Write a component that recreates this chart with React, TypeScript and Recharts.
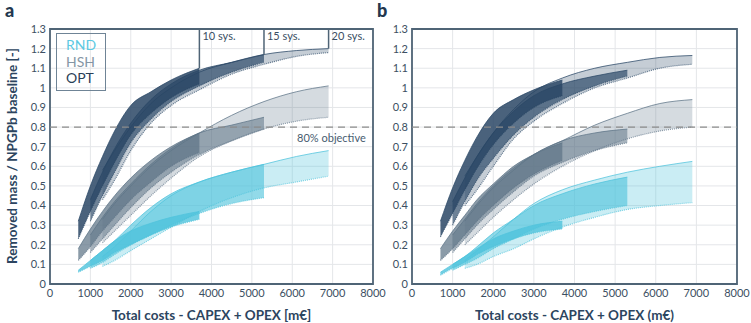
import React from 'react';
import {
  ComposedChart,
  Area,
  Line,
  XAxis,
  YAxis,
  CartesianGrid,
  ReferenceLine,
  ReferenceArea,
  ReferenceDot,
} from 'recharts';

// Total costs (m€) at which each band is sampled
const costs = [700, 1000, 1300, 1600, 2000, 2500, 3000, 3700, 4500, 5300, 6100, 6900];
const n = null;

// Panel a — upper / lower bound of removed mass per method and number of systems
const aOpt10Hi = [0.32, 0.5, 0.65, 0.78, 0.91, 0.98, 1.04, 1.1, n, n, n, n];
const aOpt10Lo = [0.23, 0.37, 0.5, 0.62, 0.76, 0.87, 0.95, 1.02, n, n, n, n];
const aOpt15Hi = [n, 0.43, 0.57, 0.69, 0.82, 0.94, 1.02, 1.09, 1.13, 1.17, n, n];
const aOpt15Lo = [n, 0.32, 0.45, 0.57, 0.72, 0.84, 0.93, 1.01, 1.08, 1.13, n, n];
const aOpt20Hi = [n, n, 0.58, 0.68, 0.8, 0.92, 1.0, 1.08, 1.13, 1.17, 1.19, 1.2];
const aOpt20Lo = [n, n, 0.43, 0.53, 0.68, 0.82, 0.91, 0.99, 1.07, 1.12, 1.16, 1.18];
const aHsh10Hi = [0.18, 0.28, 0.37, 0.45, 0.54, 0.63, 0.7, 0.77, n, n, n, n];
const aHsh10Lo = [0.12, 0.19, 0.27, 0.34, 0.43, 0.52, 0.6, 0.67, n, n, n, n];
const aHsh15Hi = [n, 0.25, 0.34, 0.42, 0.51, 0.61, 0.69, 0.77, 0.81, 0.85, n, n];
const aHsh15Lo = [n, 0.16, 0.23, 0.3, 0.39, 0.49, 0.57, 0.66, 0.73, 0.79, n, n];
const aHsh20Hi = [n, n, 0.33, 0.41, 0.5, 0.6, 0.68, 0.77, 0.86, 0.93, 0.98, 1.01];
const aHsh20Lo = [n, n, 0.21, 0.27, 0.35, 0.45, 0.54, 0.65, 0.73, 0.79, 0.83, 0.85];
const aRnd10Hi = [0.07, 0.12, 0.17, 0.22, 0.27, 0.31, 0.34, 0.37, n, n, n, n];
const aRnd10Lo = [0.06, 0.09, 0.12, 0.16, 0.2, 0.25, 0.29, 0.33, n, n, n, n];
const aRnd15Hi = [n, 0.12, 0.17, 0.22, 0.3, 0.39, 0.46, 0.52, 0.57, 0.61, n, n];
const aRnd15Lo = [n, 0.08, 0.11, 0.15, 0.2, 0.25, 0.3, 0.36, 0.41, 0.44, n, n];
const aRnd20Hi = [n, n, 0.14, 0.19, 0.27, 0.37, 0.45, 0.52, 0.57, 0.61, 0.65, 0.68];
const aRnd20Lo = [n, n, 0.09, 0.12, 0.17, 0.23, 0.29, 0.37, 0.44, 0.49, 0.52, 0.55];

// Panel b
const bOpt10Hi = [0.32, 0.49, 0.63, 0.75, 0.87, 0.94, 0.99, 1.04, n, n, n, n];
const bOpt10Lo = [0.24, 0.36, 0.48, 0.59, 0.71, 0.82, 0.9, 0.96, n, n, n, n];
const bOpt15Hi = [n, 0.42, 0.54, 0.65, 0.77, 0.88, 0.96, 1.02, 1.06, 1.09, n, n];
const bOpt15Lo = [n, 0.3, 0.42, 0.53, 0.64, 0.76, 0.85, 0.94, 1.01, 1.06, n, n];
const bOpt20Hi = [n, n, 0.55, 0.65, 0.77, 0.89, 0.98, 1.05, 1.1, 1.13, 1.155, 1.165];
const bOpt20Lo = [n, n, 0.4, 0.48, 0.6, 0.74, 0.83, 0.92, 1.0, 1.05, 1.1, 1.12];
const bHsh10Hi = [0.18, 0.27, 0.35, 0.43, 0.51, 0.6, 0.66, 0.72, n, n, n, n];
const bHsh10Lo = [0.12, 0.18, 0.25, 0.32, 0.4, 0.49, 0.56, 0.63, n, n, n, n];
const bHsh15Hi = [n, 0.25, 0.33, 0.41, 0.5, 0.59, 0.66, 0.73, 0.77, 0.79, n, n];
const bHsh15Lo = [n, 0.16, 0.23, 0.3, 0.38, 0.47, 0.55, 0.62, 0.68, 0.72, n, n];
const bHsh20Hi = [n, n, 0.32, 0.4, 0.49, 0.58, 0.66, 0.73, 0.81, 0.87, 0.92, 0.94];
const bHsh20Lo = [n, n, 0.2, 0.26, 0.34, 0.43, 0.51, 0.6, 0.68, 0.74, 0.78, 0.8];
const bRnd10Hi = [0.06, 0.1, 0.14, 0.18, 0.23, 0.27, 0.3, 0.32, n, n, n, n];
const bRnd10Lo = [0.045, 0.08, 0.11, 0.15, 0.19, 0.23, 0.26, 0.28, n, n, n, n];
const bRnd15Hi = [n, 0.1, 0.14, 0.19, 0.26, 0.33, 0.4, 0.46, 0.51, 0.545, n, n];
const bRnd15Lo = [n, 0.07, 0.1, 0.13, 0.18, 0.23, 0.28, 0.33, 0.37, 0.4, n, n];
const bRnd20Hi = [n, n, 0.12, 0.17, 0.24, 0.33, 0.41, 0.48, 0.53, 0.57, 0.6, 0.625];
const bRnd20Lo = [n, n, 0.08, 0.1, 0.14, 0.18, 0.23, 0.29, 0.34, 0.38, 0.4, 0.415];

// Axis ticks
const xTicks = [0, 1000, 2000, 3000, 4000, 5000, 6000, 7000, 8000];
const yTicks = [0, 0.1, 0.2, 0.3, 0.4, 0.5, 0.6, 0.7, 0.8, 0.9, 1, 1.1, 1.2, 1.3];

// Methods shown in the legend
const methods = ['RND', 'HSH', 'OPT'];
const methodColor: Record<string, string> = { RND: '#4fc3dc', HSH: '#5e7487', OPT: '#2a4765' };
const legendText: Record<string, string> = { RND: '#5cc9e2', HSH: '#8596a5', OPT: '#2a3f57' };
const bandOpacity: Record<string, number[]> = {
  OPT: [0.85, 0.68, 0.27],
  HSH: [0.72, 0.55, 0.26],
  RND: [0.8, 0.62, 0.3],
};

// System-count markers (panel a)
const sysCounts = ['10 sys.', '15 sys.', '20 sys.'];
const sysCosts = [3700, 5300, 6900];
const sysTops = [1.1, 1.17, 1.2];
const objective = 0.8;

type Band = { key: string; method: string; level: number; hi: (number | null)[]; lo: (number | null)[] };

const panelA: Band[] = [
  { key: 'r20', method: 'RND', level: 2, hi: aRnd20Hi, lo: aRnd20Lo },
  { key: 'r15', method: 'RND', level: 1, hi: aRnd15Hi, lo: aRnd15Lo },
  { key: 'r10', method: 'RND', level: 0, hi: aRnd10Hi, lo: aRnd10Lo },
  { key: 'h20', method: 'HSH', level: 2, hi: aHsh20Hi, lo: aHsh20Lo },
  { key: 'h15', method: 'HSH', level: 1, hi: aHsh15Hi, lo: aHsh15Lo },
  { key: 'h10', method: 'HSH', level: 0, hi: aHsh10Hi, lo: aHsh10Lo },
  { key: 'o20', method: 'OPT', level: 2, hi: aOpt20Hi, lo: aOpt20Lo },
  { key: 'o15', method: 'OPT', level: 1, hi: aOpt15Hi, lo: aOpt15Lo },
  { key: 'o10', method: 'OPT', level: 0, hi: aOpt10Hi, lo: aOpt10Lo },
];

const panelB: Band[] = [
  { key: 'r20', method: 'RND', level: 2, hi: bRnd20Hi, lo: bRnd20Lo },
  { key: 'r15', method: 'RND', level: 1, hi: bRnd15Hi, lo: bRnd15Lo },
  { key: 'r10', method: 'RND', level: 0, hi: bRnd10Hi, lo: bRnd10Lo },
  { key: 'h20', method: 'HSH', level: 2, hi: bHsh20Hi, lo: bHsh20Lo },
  { key: 'h15', method: 'HSH', level: 1, hi: bHsh15Hi, lo: bHsh15Lo },
  { key: 'h10', method: 'HSH', level: 0, hi: bHsh10Hi, lo: bHsh10Lo },
  { key: 'o20', method: 'OPT', level: 2, hi: bOpt20Hi, lo: bOpt20Lo },
  { key: 'o15', method: 'OPT', level: 1, hi: bOpt15Hi, lo: bOpt15Lo },
  { key: 'o10', method: 'OPT', level: 0, hi: bOpt10Hi, lo: bOpt10Lo },
];

function buildRows(bands: Band[]) {
  return costs.map((cost, i) => {
    const row: Record<string, any> = { cost };
    bands.forEach((b) => {
      const h = b.hi[i];
      const l = b.lo[i];
      row[b.key] = h == null || l == null ? null : [l, h];
      row[b.key + 'Hi'] = h;
      row[b.key + 'Lo'] = l;
    });
    return row;
  });
}

const FONT = 'Lato, "Open Sans", sans-serif';
const FRAME = '#4f6476';
const TICK = { fontSize: 11, fill: '#3c4f62', fontFamily: FONT };
const TITLE = '#2c4560';

const fmtY = (v: number) => String(v);

function renderBands(bands: Band[]) {
  const out: React.ReactNode[] = [];
  bands.forEach((b) => {
    const color = methodColor[b.method];
    out.push(
      <Area
        key={b.key}
        dataKey={b.key}
        type="monotone"
        stroke="none"
        fill={color}
        fillOpacity={bandOpacity[b.method][b.level]}
        isAnimationActive={false}
        connectNulls={false}
        activeDot={false}
      />
    );
  });
  bands.forEach((b) => {
    const color = methodColor[b.method];
    out.push(
      <Line
        key={b.key + 'Hi'}
        dataKey={b.key + 'Hi'}
        type="monotone"
        stroke={color}
        strokeOpacity={0.75}
        strokeWidth={1}
        dot={false}
        activeDot={false}
        isAnimationActive={false}
        connectNulls={false}
      />,
      <Line
        key={b.key + 'Lo'}
        dataKey={b.key + 'Lo'}
        type="monotone"
        stroke={color}
        strokeOpacity={0.7}
        strokeWidth={1.2}
        strokeDasharray="1 1"
        dot={false}
        activeDot={false}
        isAnimationActive={false}
        connectNulls={false}
      />
    );
  });
  return out;
}

function Panel(props: {
  bands: Band[];
  width: number;
  yAxisWidth: number;
  rightMargin: number;
  xTitle: string;
  showMarkers: boolean;
}) {
  const { bands, width, yAxisWidth, rightMargin, xTitle, showMarkers } = props;
  const rows = buildRows(bands);
  return (
    <ComposedChart
      width={width}
      height={323}
      data={rows}
      margin={{ top: 29, right: rightMargin, bottom: 0, left: 0 }}
    >
      <CartesianGrid stroke="#e4e6e9" strokeWidth={1} />
      <XAxis
        dataKey="cost"
        type="number"
        domain={[0, 8000]}
        ticks={xTicks}
        interval={0}
        tick={TICK}
        tickLine={false}
        tickMargin={0}
        tickSize={5}
        axisLine={false}
        height={39}
        allowDataOverflow
        label={{
          content: (p: any) => {
            const vb = p.viewBox || {};
            return (
              <text
                x={vb.x + vb.width / 2}
                y={320}
                textAnchor="middle"
                fontFamily={FONT}
                fontWeight={700}
                fontSize={13.5}
                fill={TITLE}
              >
                {xTitle}
              </text>
            );
          },
        }}
      />
      <YAxis
        type="number"
        domain={[0, 1.3]}
        ticks={yTicks}
        interval={0}
        tick={TICK}
        tickFormatter={fmtY}
        tickLine={false}
        tickSize={4}
        tickMargin={0}
        axisLine={false}
        width={yAxisWidth}
        allowDataOverflow
      />
      {renderBands(bands)}
      <ReferenceLine
        y={objective}
        stroke="#8c8c8c"
        strokeWidth={1.3}
        strokeDasharray="7 5"
        ifOverflow="visible"
      />
      {showMarkers && (
        <ReferenceDot
          x={7820}
          y={objective}
          r={0}
          ifOverflow="visible"
          shape={(p: any) => (
            <text
              x={p.cx}
              y={p.cy + 15}
              textAnchor="end"
              fontFamily={FONT}
              fontSize={11}
              fill="#485c70"
            >
              80% objective
            </text>
          )}
        />
      )}
      {showMarkers &&
        sysCosts.map((c, i) => (
          <ReferenceLine
            key={'sl' + i}
            segment={[
              { x: c, y: sysTops[i] },
              { x: c, y: 1.3 },
            ]}
            stroke={FRAME}
            strokeWidth={1.5}
            ifOverflow="visible"
          />
        ))}
      {showMarkers &&
        sysCosts.map((c, i) => (
          <ReferenceDot
            key={'st' + i}
            x={c}
            y={1.3}
            r={0}
            ifOverflow="visible"
            shape={(p: any) => (
              <text
                x={p.cx + 3}
                y={p.cy + 11}
                fontFamily={FONT}
                fontSize={11}
                fill="#3a4e63"
              >
                {sysCounts[i]}
              </text>
            )}
          />
        ))}
      <ReferenceArea
        x1={0}
        x2={8000}
        y1={0}
        y2={1.3}
        fill="none"
        stroke={FRAME}
        strokeWidth={1.8}
        ifOverflow="visible"
      />
    </ComposedChart>
  );
}

function MethodLegend() {
  return (
    <div
      style={{
        position: 'absolute',
        left: 56,
        top: 33,
        width: 48,
        height: 53,
        border: '1.6px solid #6f8496',
        boxSizing: 'content-box',
        fontFamily: FONT,
        fontSize: 14,
        lineHeight: '16.5px',
        paddingTop: 3,
        paddingLeft: 0,
      }}
    >
      {methods.map((m) => (
        <div key={m} style={{ color: legendText[m], paddingLeft: 9 }}>
          {m}
        </div>
      ))}
    </div>
  );
}

function YTitle(props: { left: number }) {
  return (
    <svg
      width={24}
      height={323}
      style={{ position: 'absolute', left: props.left, top: 0, overflow: 'visible' }}
    >
      <text
        x={0}
        y={0}
        transform="translate(17 156) rotate(-90)"
        textAnchor="middle"
        fontFamily={FONT}
        fontWeight={700}
        fontSize={13.5}
        fill={TITLE}
      >
        Removed mass / NPGPb baseline [-]
      </text>
    </svg>
  );
}

function PanelLetters() {
  return (
    <svg width={751} height={24} style={{ position: 'absolute', left: 0, top: 0 }}>
      <text x={5} y={17} fontFamily={FONT} fontWeight={900} fontSize={18} fill="#23384f">
        a
      </text>
      <text x={377} y={17} fontFamily={FONT} fontWeight={900} fontSize={18} fill="#23384f">
        b
      </text>
    </svg>
  );
}

export default function App() {
  return (
    <div
      style={{
        position: 'absolute',
        left: 0,
        top: 0,
        width: 751,
        height: 323,
        background: '#ffffff',
        overflow: 'hidden',
        fontFamily: FONT,
      }}
    >
      <div style={{ position: 'absolute', left: 0, top: 0 }}>
        <Panel
          bands={panelA}
          width={396}
          yAxisWidth={50}
          rightMargin={23}
          xTitle="Total costs - CAPEX + OPEX [m€]"
          showMarkers
        />
      </div>
      <div style={{ position: 'absolute', left: 370, top: 0 }}>
        <Panel
          bands={panelB}
          width={381}
          yAxisWidth={42}
          rightMargin={14}
          xTitle="Total costs - CAPEX + OPEX (m€)"
          showMarkers={false}
        />
      </div>
      <YTitle left={0} />
      <MethodLegend />
      <PanelLetters />
    </div>
  );
}
